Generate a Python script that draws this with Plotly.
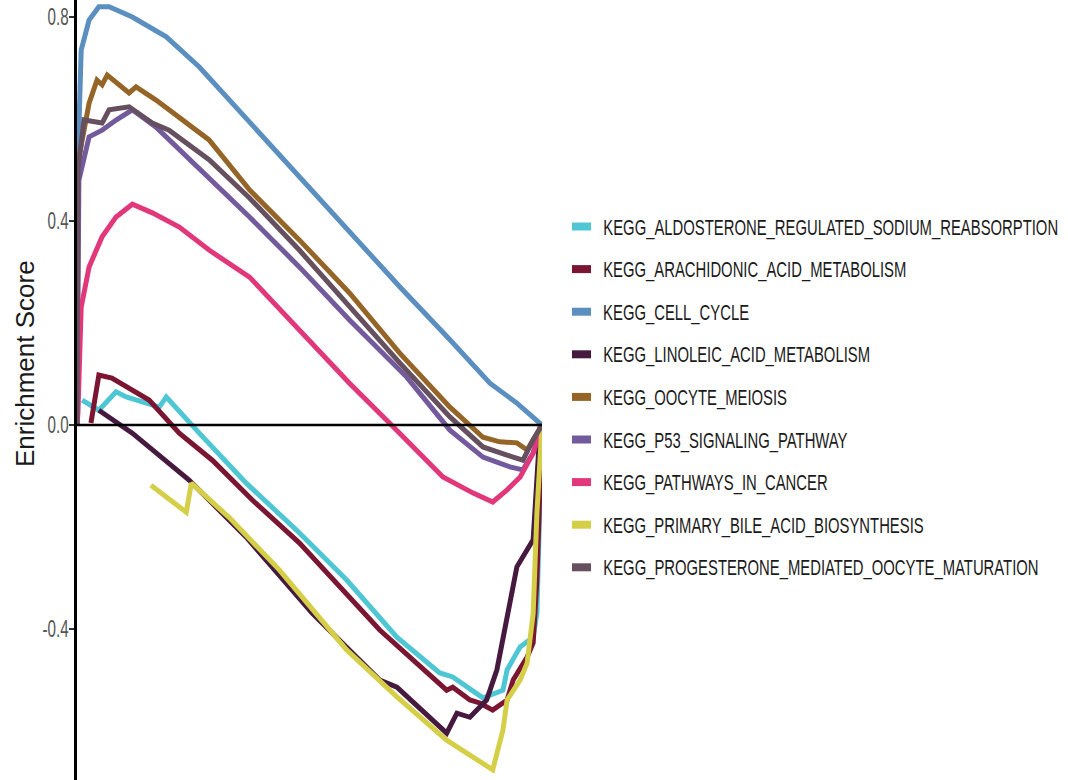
import plotly.graph_objects as go

# ---------------- data (position in ranked gene list, running enrichment score) ----------------
pathways = [
    "KEGG_ALDOSTERONE_REGULATED_SODIUM_REABSORPTION",
    "KEGG_ARACHIDONIC_ACID_METABOLISM",
    "KEGG_CELL_CYCLE",
    "KEGG_LINOLEIC_ACID_METABOLISM",
    "KEGG_OOCYTE_MEIOSIS",
    "KEGG_P53_SIGNALING_PATHWAY",
    "KEGG_PATHWAYS_IN_CANCER",
    "KEGG_PRIMARY_BILE_ACID_BIOSYNTHESIS",
    "KEGG_PROGESTERONE_MEDIATED_OOCYTE_MATURATION",
]
colors = ["#4FC6D3", "#7A1632", "#5B8FC0", "#46193F", "#956527",
          "#735A9C", "#E0387A", "#D5CF48", "#66505F"]

aldosterone_x = [0.011, 0.047, 0.084, 0.106, 0.177, 0.192, 0.263, 0.364, 0.472, 0.580, 0.688,
                 0.780, 0.808, 0.860, 0.873, 0.916, 0.925, 0.953, 0.981, 0.989, 1.0]
aldosterone_y = [0.049, 0.029, 0.065, 0.055, 0.035, 0.055, -0.016, -0.114, -0.206, -0.304, -0.416,
                 -0.486, -0.494, -0.525, -0.535, -0.520, -0.480, -0.435, -0.416, -0.369, 0.0]

arachidonic_x = [0.030, 0.047, 0.075, 0.155, 0.220, 0.291, 0.377, 0.478, 0.651, 0.722, 0.795,
                 0.808, 0.845, 0.866, 0.894, 0.925, 0.938, 0.968, 0.981, 0.989, 0.996, 1.0]
arachidonic_y = [0.004, 0.098, 0.092, 0.049, -0.016, -0.069, -0.147, -0.231, -0.402, -0.461, -0.520,
                 -0.514, -0.539, -0.545, -0.559, -0.539, -0.500, -0.455, -0.427, -0.304, -0.075, 0.0]

cell_cycle_x = [0.0, 0.003, 0.009, 0.026, 0.047, 0.069, 0.119, 0.192, 0.263, 0.371, 0.478,
                0.586, 0.694, 0.802, 0.888, 0.946, 1.0]
cell_cycle_y = [0.0, 0.55, 0.735, 0.794, 0.820, 0.820, 0.800, 0.761, 0.702, 0.594, 0.486,
                0.376, 0.271, 0.167, 0.082, 0.043, 0.0]

linoleic_x = [0.047, 0.119, 0.241, 0.364, 0.506, 0.651, 0.688, 0.795, 0.817, 0.845, 0.860,
              0.881, 0.903, 0.925, 0.946, 0.981, 0.989, 0.996, 1.0]
linoleic_y = [0.029, -0.016, -0.108, -0.220, -0.369, -0.500, -0.514, -0.604, -0.565, -0.573, -0.559,
              -0.539, -0.480, -0.382, -0.278, -0.225, -0.108, -0.004, 0.0]

oocyte_x = [0.0, 0.002, 0.026, 0.043, 0.054, 0.065, 0.112, 0.127, 0.170, 0.198, 0.284, 0.371,
            0.478, 0.586, 0.694, 0.802, 0.838, 0.873, 0.909, 0.946, 0.968, 0.989, 1.0]
oocyte_y = [0.0, 0.514, 0.631, 0.676, 0.667, 0.686, 0.651, 0.663, 0.637, 0.618, 0.559, 0.461,
            0.363, 0.259, 0.141, 0.035, 0.004, -0.024, -0.033, -0.035, -0.049, -0.016, 0.0]

p53_x = [0.0, 0.004, 0.026, 0.054, 0.084, 0.119, 0.170, 0.284, 0.371, 0.478, 0.586, 0.709,
         0.802, 0.873, 0.931, 0.959, 0.981, 1.0]
p53_y = [0.0, 0.480, 0.565, 0.578, 0.598, 0.618, 0.584, 0.486, 0.408, 0.310, 0.206, 0.094,
         -0.010, -0.063, -0.082, -0.088, -0.055, 0.0]

cancer_x = [0.0, 0.002, 0.009, 0.026, 0.054, 0.084, 0.119, 0.162, 0.220, 0.284, 0.371, 0.478,
            0.586, 0.672, 0.731, 0.787, 0.851, 0.894, 0.925, 0.953, 0.981, 0.996, 1.0]
cancer_y = [0.0, 0.024, 0.231, 0.310, 0.369, 0.408, 0.433, 0.416, 0.388, 0.343, 0.290, 0.186,
            0.082, 0.004, -0.049, -0.102, -0.133, -0.151, -0.127, -0.102, -0.055, -0.016, 0.0]

bile_x = [0.159, 0.235, 0.246, 0.328, 0.435, 0.580, 0.688, 0.795, 0.894, 0.916, 0.925, 0.953,
          0.968, 0.981, 0.989, 0.996, 1.0]
bile_y = [-0.118, -0.171, -0.114, -0.182, -0.284, -0.441, -0.533, -0.618, -0.676, -0.598, -0.539,
          -0.500, -0.467, -0.369, -0.173, -0.029, 0.0]

progesterone_x = [0.0, 0.002, 0.015, 0.054, 0.069, 0.112, 0.162, 0.198, 0.284, 0.371, 0.478,
                  0.586, 0.694, 0.802, 0.873, 0.938, 0.959, 0.981, 1.0]
progesterone_y = [0.0, 0.500, 0.598, 0.592, 0.618, 0.624, 0.592, 0.578, 0.520, 0.445, 0.343,
                  0.231, 0.122, 0.016, -0.043, -0.063, -0.069, -0.029, 0.0]

ytick_vals = [-0.4, 0.0, 0.4, 0.8]
ytick_text = ["-0.4", "0.0", "0.4", "0.8"]

series_x = [aldosterone_x, arachidonic_x, cell_cycle_x, linoleic_x, oocyte_x,
            p53_x, cancer_x, bile_x, progesterone_x]
series_y = [aldosterone_y, arachidonic_y, cell_cycle_y, linoleic_y, oocyte_y,
            p53_y, cancer_y, bile_y, progesterone_y]

# ---------------- figure ----------------
W, H = 1068, 780
L, R = 77, 526
SANS = "Liberation Sans, Arial, Helvetica, sans-serif"

fig = go.Figure()
for name, c, xs, ys in zip(pathways, colors, series_x, series_y):
    fig.add_trace(go.Scatter(x=xs, y=ys, mode="lines", name=name,
                             line=dict(color=c, width=5), showlegend=False))

plot_w = W - L - R


def px_to_paper_x(px):
    return (px - L) / plot_w


def px_to_paper_y(py):
    return 1 - py / H


shapes = [dict(type="line", xref="paper", x0=0, x1=1, yref="y", y0=0, y1=0,
               line=dict(color="black", width=2.5), layer="above")]
annotations = [dict(text="Enrichment Score", textangle=-90, showarrow=False,
                    xref="paper", yref="paper",
                    x=px_to_paper_x(25), y=px_to_paper_y(364),
                    xanchor="center", yanchor="middle",
                    font=dict(family=SANS, size=26, color="#1A1A1A"))]

row0, step = 226.5, 42.6
for i, (name, c) in enumerate(zip(pathways, colors)):
    cy = row0 + i * step
    shapes.append(dict(type="rect", xref="paper", yref="paper",
                       x0=px_to_paper_x(572), x1=px_to_paper_x(591),
                       y0=px_to_paper_y(cy + 4), y1=px_to_paper_y(cy - 4),
                       fillcolor=c, line=dict(width=0)))
    annotations.append(dict(text=name, showarrow=False, xref="paper", yref="paper",
                            x=px_to_paper_x(601), y=px_to_paper_y(cy + 0.5),
                            xanchor="left", yanchor="middle",
                            font=dict(family=SANS, size=22, color="#1A1A1A")))

fig.update_layout(
    width=W, height=H,
    margin=dict(l=L, r=R, t=0, b=0, pad=0),
    paper_bgcolor="white", plot_bgcolor="white",
    xaxis=dict(range=[0, 1], visible=False, fixedrange=True),
    yaxis=dict(range=[-0.696, 0.8333], showgrid=False, zeroline=False,
               showline=True, linecolor="black", linewidth=2.5,
               ticks="outside", ticklen=5, tickwidth=1.5, tickcolor="#333333",
               tickvals=ytick_vals, ticktext=ytick_text,
               tickfont=dict(family=SANS, size=23, color="#555555"),
               fixedrange=True),
    shapes=shapes,
    annotations=annotations,
    showlegend=False,
)

# The reference uses a condensed typeface; narrow the text horizontally (it stays real text).
post = """
var gd = document.getElementById('{plot_id}');
function squeeze() {
  gd.querySelectorAll('text.annotation-text').forEach(function (t) {
    if (t.textContent.indexOf('KEGG') === 0) {
      t.style.transformBox = 'fill-box';
      t.style.transformOrigin = '0% 50%';
      t.style.transform = 'scaleX(0.675)';
    }
  });
  gd.querySelectorAll('g.ytick').forEach(function (g) {
    g.style.transformBox = 'fill-box';
    g.style.transformOrigin = '100% 50%';
    g.style.transform = 'translateX(4px) scaleX(0.66)';
  });
}
squeeze();
gd.on('plotly_afterplot', squeeze);
"""

fig.write_html("out.html", config={"displayModeBar": False}, post_script=post)
